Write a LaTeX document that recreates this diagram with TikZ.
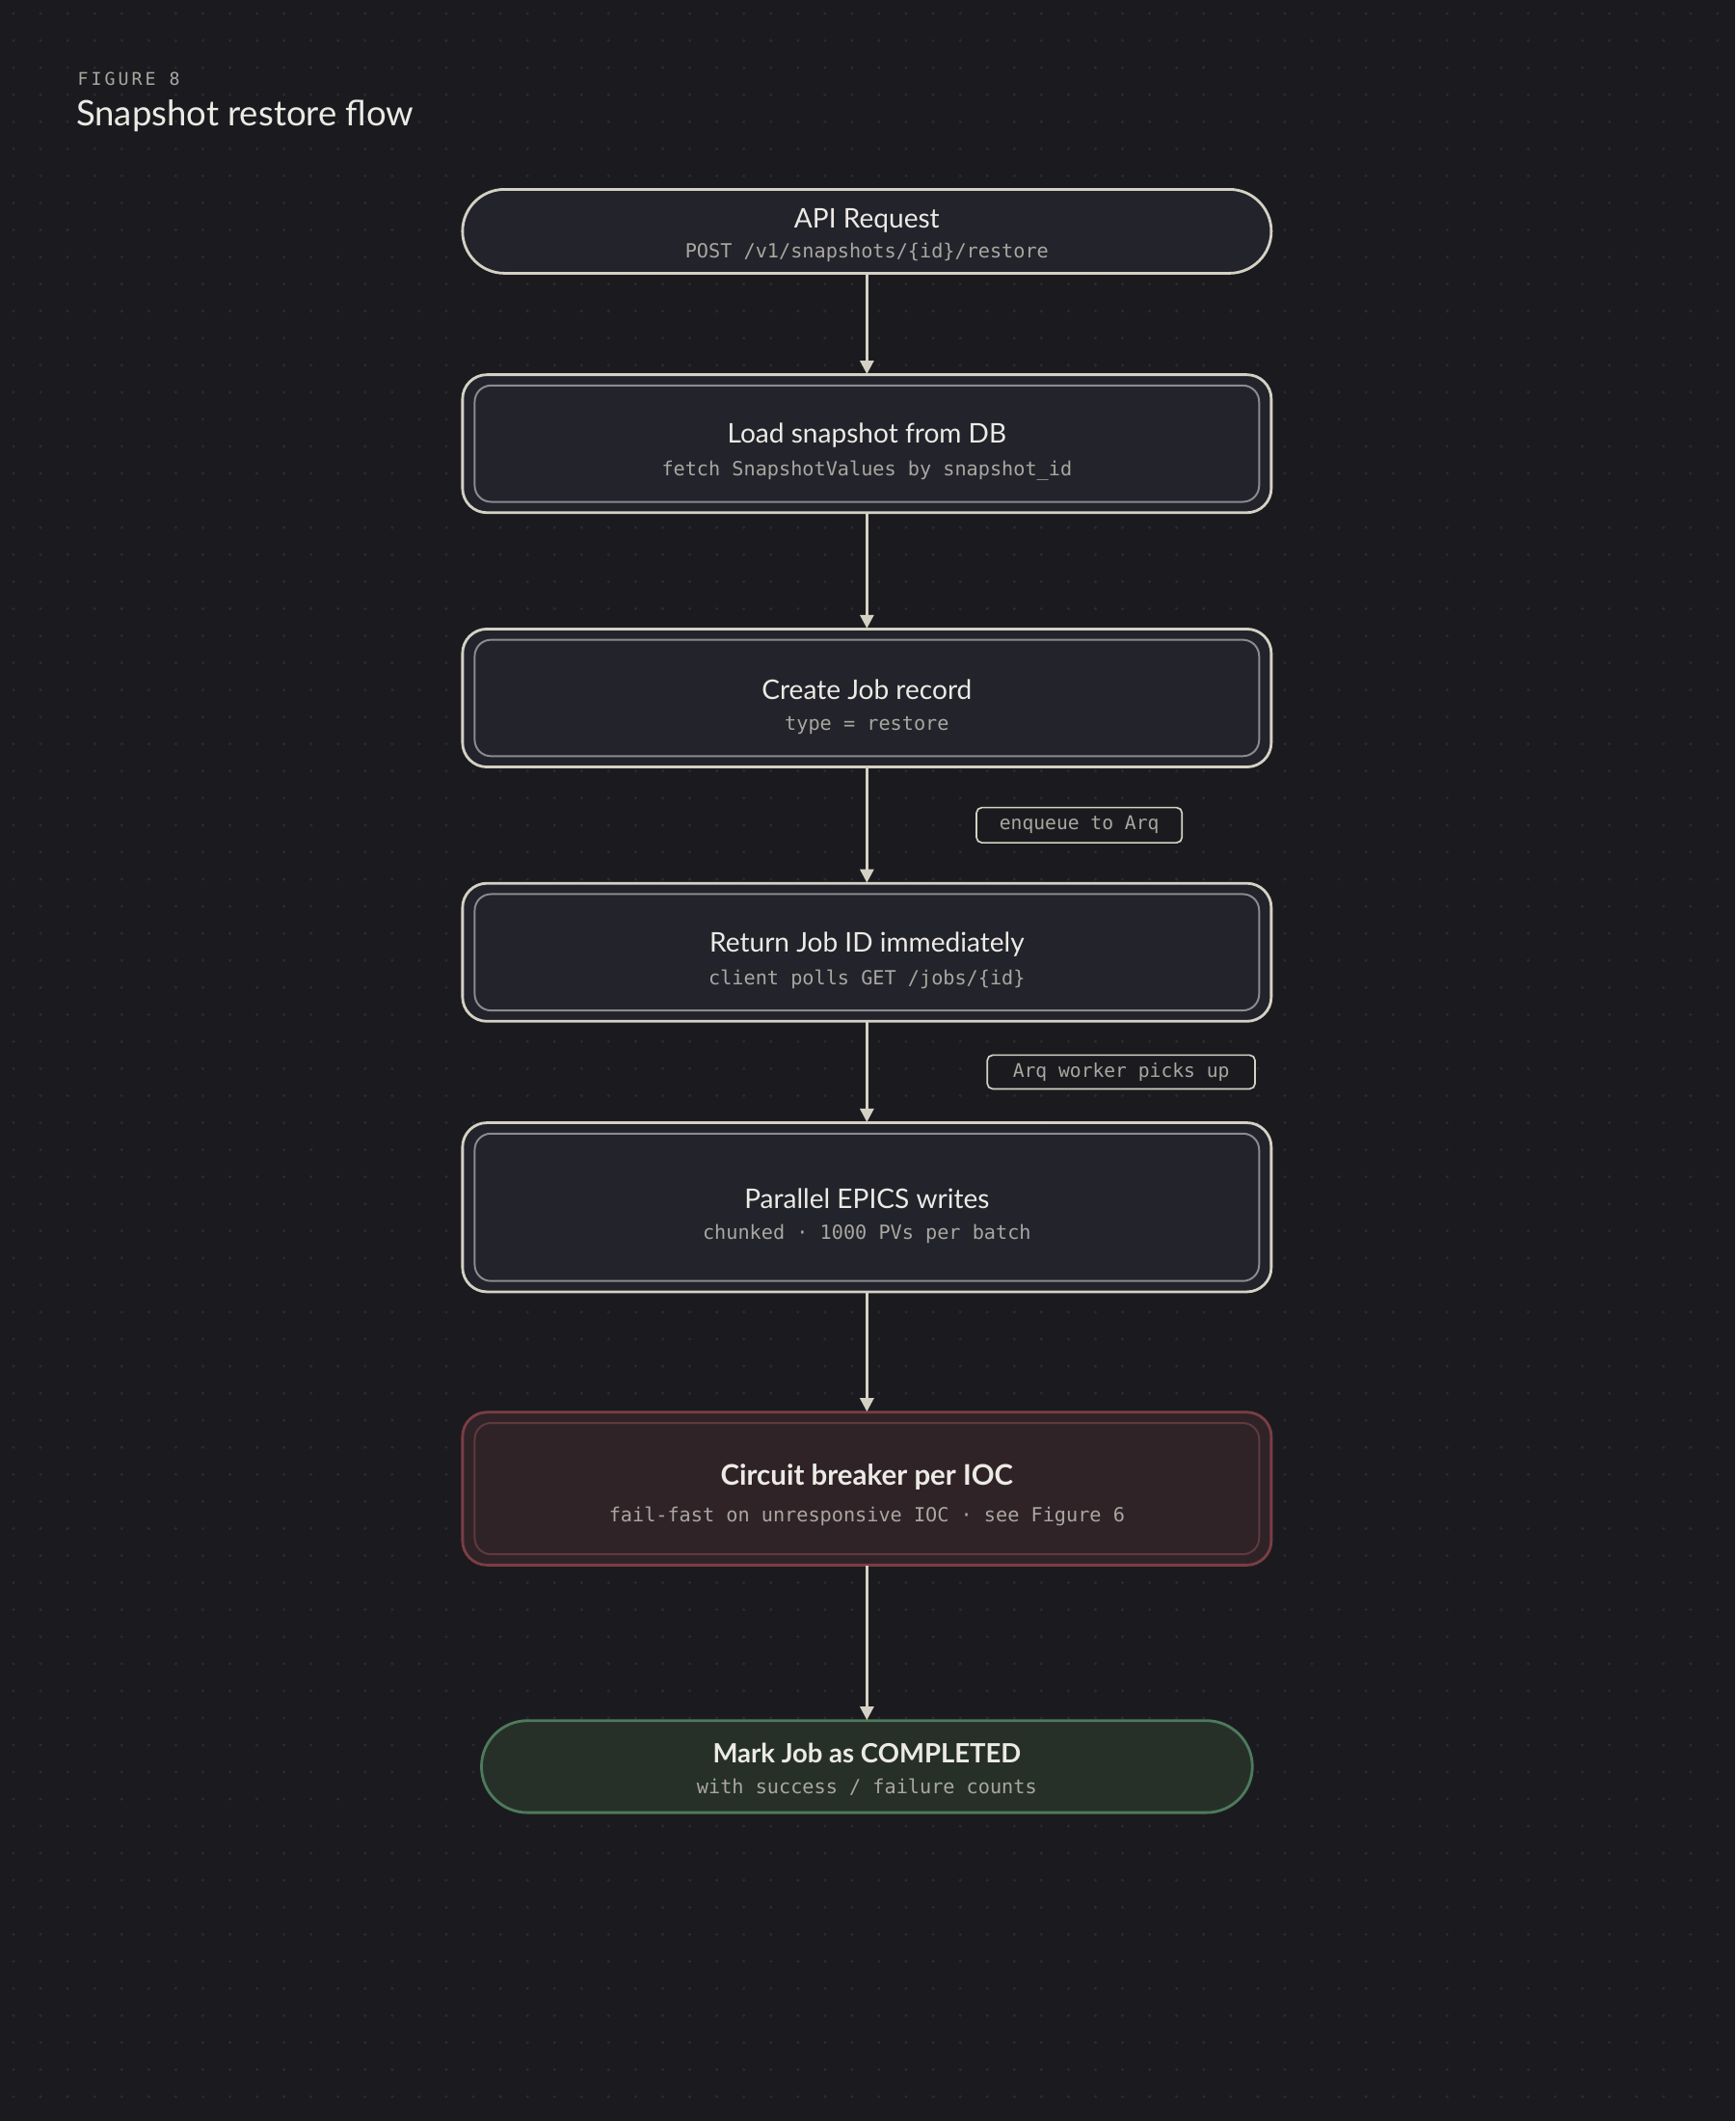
\documentclass[tikz,border=0pt]{standalone}
\usepackage{fontspec}
\setmainfont{Lato}
\setmonofont{DejaVu Sans Mono}
\usetikzlibrary{arrows.meta}
\definecolor{bg}{HTML}{1B1B1F}
\definecolor{dotc}{HTML}{2A2A30}
\definecolor{boxf}{HTML}{22232B}
\definecolor{edge}{HTML}{D4D1C4}
\definecolor{inner}{HTML}{8A8A90}
\definecolor{txt}{HTML}{ECEAE4}
\definecolor{sub}{HTML}{A9A7A0}
\definecolor{redf}{HTML}{2F2328}
\definecolor{rede}{HTML}{7A3E44}
\definecolor{rodi}{HTML}{5E3A3E}
\definecolor{grf}{HTML}{263029}
\definecolor{gre}{HTML}{4E7A5C}
\tikzset{
 x=0.5pt,y=-0.5pt,
 ttl/.style={text=txt,font=\fontsize{10}{12}\selectfont,anchor=center,yshift=-1pt},
 subt/.style={text=sub,font=\ttfamily\fontsize{7.2}{9}\selectfont,anchor=center,yshift=-1pt},
 arr/.style={draw=edge,line width=1pt,-{Triangle[length=5pt,width=5pt]}},
 tag/.style={draw=edge,line width=0.6pt,rounded corners=2pt,fill=bg,text=sub,font=\ttfamily\fontsize{7}{8}\selectfont,inner sep=0pt},
 pt/.style={inner sep=0pt,minimum size=0pt},
}
\newcommand{\dbox}[6]{% name y1 y2 fill outer inner
 \draw[fill=#4,draw=#5,line width=1pt,rounded corners=9pt] (342,#2) rectangle (940,#3);
 \draw[draw=#6,line width=0.7pt,rounded corners=6pt] (351,#2+8) rectangle (931,#3-8);
 \node[pt] (#1t) at (641,#2) {};
 \node[pt] (#1b) at (641,#3) {};
}
\begin{document}
\begin{tikzpicture}
\fill[bg] (0,0) rectangle (1283,1568);
\useasboundingbox (0,0) rectangle (1283,1568);
\foreach \i in {0,...,63}{\foreach \j in {0,...,77}{\fill[dotc] (\i*20+10,\j*20+10) circle (0.6pt);}}
\node[anchor=west,inner sep=0pt,text=sub,font=\ttfamily\fontsize{6.5}{8}\selectfont] (fig) at (57,58) {F\,I\,G\,U\,R\,E\,\ 8};
\node[anchor=west,inner sep=0pt,text=txt,font=\fontsize{13}{15}\selectfont] (title) at (56,86) {Snapshot restore flow};
\draw[fill=boxf,draw=edge,line width=1pt,rounded corners=15.5pt] (342,140) rectangle (940,202);
\node[pt] (n1b) at (641,202) {};
\node[ttl] (n1a) at (641,161) {API Request};
\node[subt] (n1s) at (641,185) {POST /v1/snapshots/\{id\}/restore};
\dbox{n2}{277}{379}{boxf}{edge}{inner}
\node[ttl] (n2a) at (641,320) {Load snapshot from DB};
\node[subt] (n2s) at (641,346) {fetch SnapshotValues by snapshot\_id};
\dbox{n3}{465}{567}{boxf}{edge}{inner}
\node[ttl] (n3a) at (641,508) {Create Job record};
\node[subt] (n3s) at (641,534) {type = restore};
\dbox{n4}{653}{755}{boxf}{edge}{inner}
\node[ttl] (n4a) at (641,696) {Return Job ID immediately};
\node[subt] (n4s) at (641,722) {client polls GET /jobs/\{id\}};
\dbox{n5}{830}{955}{boxf}{edge}{inner}
\node[ttl] (n5a) at (641,884) {Parallel EPICS writes};
\node[subt] (n5s) at (641,910) {chunked · 1000 PVs per batch};
\dbox{n6}{1044}{1157}{redf}{rede}{rodi}
\node[ttl,font=\bfseries\fontsize{10.5}{12}\selectfont] (n6a) at (641,1090) {Circuit breaker per IOC};
\node[subt] (n6s) at (641,1119) {fail-fast on unresponsive IOC · see Figure 6};
\draw[fill=grf,draw=gre,line width=1pt,rounded corners=17pt] (356,1272) rectangle (926,1340);
\node[pt] (n7t) at (641,1272) {};
\node[ttl,font=\bfseries\fontsize{9.8}{12}\selectfont] (n7a) at (641,1294) {Mark Job as COMPLETED};
\node[subt] (n7s) at (641,1319) {with success / failure counts};
\draw[arr] (n1b) -- (n2t);
\draw[arr] (n2b) -- (n3t);
\draw[arr] (n3b) -- (n4t);
\draw[arr] (n4b) -- (n5t);
\draw[arr] (n5b) -- (n6t);
\draw[arr] (n6b) -- (n7t);
\node[tag,minimum width=76pt,minimum height=13pt] (l1) at (798,610) {enqueue to Arq};
\node[tag,minimum width=99pt,minimum height=12.5pt] (l2) at (829,792.5) {Arq worker picks up};
\end{tikzpicture}
\end{document}
